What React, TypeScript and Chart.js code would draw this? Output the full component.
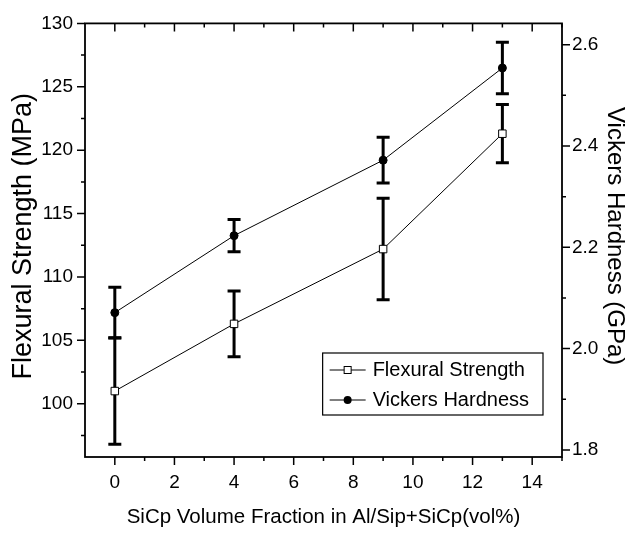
import React, { useEffect, useRef } from "react";
import { Chart, registerables } from "chart.js";

Chart.register(...registerables);

// ---- data ----
const xValues = [0, 4, 9, 13];
const flexuralStrength = [101.0, 106.3, 112.2, 121.3];
const flexuralError = [4.2, 2.6, 4.0, 2.3];
const vickersHardness = [2.071, 2.223, 2.372, 2.554];
const vickersError = [0.05, 0.032, 0.045, 0.051];

// ---- tick labels ----
const xTickValues = [0, 2, 4, 6, 8, 10, 12, 14];
const xMinorTicks = [1, 3, 5, 7, 9, 11, 13, 15];
const leftTickValues = [100, 105, 110, 115, 120, 125, 130];
const leftMinorTicks = [97.5, 102.5, 107.5, 112.5, 117.5, 122.5, 127.5];
const rightTickValues = [1.8, 2.0, 2.2, 2.4, 2.6];
const rightMinorTicks = [1.9, 2.1, 2.3, 2.5];

const xTitle = "SiCp Volume Fraction in Al/Sip+SiCp(vol%)";
const leftTitle = "Flexural Strength (MPa)";
const rightTitle = "Vickers Hardness (GPa)";
const legendLabels = ["Flexural Strength", "Vickers Hardness"];

const FONT = "'Liberation Sans', Arial, Helvetica, sans-serif";

const decorPlugin = {
  id: "decor",
  beforeDatasetsDraw(chart: any) {
    const ctx = chart.ctx as CanvasRenderingContext2D;
    const sx = chart.scales.x;
    const yl = chart.scales.y;
    const yr = chart.scales.y1;
    ctx.save();
    ctx.strokeStyle = "#000";
    ctx.lineWidth = 3;
    const bar = (scale: any, xv: number, v: number, e: number) => {
      const px = sx.getPixelForValue(xv);
      const top = scale.getPixelForValue(v + e);
      const bot = scale.getPixelForValue(v - e);
      ctx.beginPath();
      ctx.moveTo(px, top);
      ctx.lineTo(px, bot);
      ctx.moveTo(px - 6.5, top);
      ctx.lineTo(px + 6.5, top);
      ctx.moveTo(px - 6.5, bot);
      ctx.lineTo(px + 6.5, bot);
      ctx.stroke();
    };
    xValues.forEach((xv, i) => {
      bar(yl, xv, flexuralStrength[i], flexuralError[i]);
      bar(yr, xv, vickersHardness[i], vickersError[i]);
    });
    ctx.restore();
  },
  afterDraw(chart: any) {
    const ctx = chart.ctx as CanvasRenderingContext2D;
    const { left, right, top, bottom } = chart.chartArea;
    const sx = chart.scales.x;
    const yl = chart.scales.y;
    const yr = chart.scales.y1;
    ctx.save();
    ctx.strokeStyle = "#000";
    ctx.fillStyle = "#000";
    ctx.lineWidth = 1.8;
    ctx.strokeRect(left, top, right - left, bottom - top);
    ctx.lineWidth = 1.5;
    ctx.beginPath();
    const MAJ = 8;
    const MIN = 4;
    xTickValues.forEach((v) => {
      const p = sx.getPixelForValue(v);
      ctx.moveTo(p, bottom);
      ctx.lineTo(p, bottom + MAJ);
      ctx.moveTo(p, top);
      ctx.lineTo(p, top + MAJ);
    });
    xMinorTicks.forEach((v) => {
      const p = sx.getPixelForValue(v);
      ctx.moveTo(p, bottom);
      ctx.lineTo(p, bottom + MIN);
      ctx.moveTo(p, top);
      ctx.lineTo(p, top + MIN);
    });
    leftTickValues.forEach((v) => {
      const p = yl.getPixelForValue(v);
      ctx.moveTo(left - MAJ, p);
      ctx.lineTo(left, p);
    });
    leftMinorTicks.forEach((v) => {
      const p = yl.getPixelForValue(v);
      ctx.moveTo(left - MIN, p);
      ctx.lineTo(left, p);
    });
    rightTickValues.forEach((v) => {
      const p = yr.getPixelForValue(v);
      ctx.moveTo(right, p);
      ctx.lineTo(right + MAJ, p);
    });
    rightMinorTicks.forEach((v) => {
      const p = yr.getPixelForValue(v);
      ctx.moveTo(right, p);
      ctx.lineTo(right + MIN, p);
    });
    ctx.stroke();

    // axis titles
    const midY = (top + bottom) / 2 - 4;
    ctx.textAlign = "center";
    ctx.textBaseline = "middle";
    ctx.font = `20.5px ${FONT}`;
    ctx.fillText(xTitle, (left + right) / 2, 517);
    ctx.font = `27px ${FONT}`;
    ctx.save();
    ctx.translate(24, midY);
    ctx.rotate(-Math.PI / 2);
    ctx.fillText(leftTitle, 0, 0);
    ctx.restore();
    ctx.font = `24px ${FONT}`;
    ctx.save();
    ctx.translate(615, midY);
    ctx.rotate(Math.PI / 2);
    ctx.fillText(rightTitle, 0, 0);
    ctx.restore();

    // legend
    ctx.font = `20px ${FONT}`;
    const textW = Math.max(...legendLabels.map((t) => ctx.measureText(t).width));
    const bx1 = right - 19;
    const by2 = bottom - 42;
    const textX = bx1 - 14 - textW;
    const bx0 = textX - 50;
    const by0 = by2 - 62;
    ctx.lineWidth = 1.2;
    ctx.strokeRect(bx0, by0, bx1 - bx0, by2 - by0);
    const rows = [by0 + 17, by0 + 47];
    ctx.textAlign = "left";
    rows.forEach((ry, i) => {
      const s0 = bx0 + 7;
      const s1 = s0 + 36;
      ctx.lineWidth = 1;
      ctx.beginPath();
      ctx.moveTo(s0, ry);
      ctx.lineTo(s1, ry);
      ctx.stroke();
      const cx = (s0 + s1) / 2;
      if (i === 0) {
        ctx.fillStyle = "#fff";
        ctx.fillRect(cx - 3.5, ry - 3.5, 7, 7);
        ctx.strokeRect(cx - 3.5, ry - 3.5, 7, 7);
        ctx.fillStyle = "#000";
      } else {
        ctx.beginPath();
        ctx.arc(cx, ry, 4, 0, Math.PI * 2);
        ctx.fill();
      }
      ctx.fillText(legendLabels[i], textX, ry);
    });
    ctx.restore();
  },
};

export default function App() {
  const ref = useRef<HTMLCanvasElement | null>(null);
  useEffect(() => {
    if (!ref.current) return;
    const tickFont = { family: FONT, size: 19 };
    const chart = new Chart(ref.current, {
      type: "scatter",
      data: {
        datasets: [
          {
            label: legendLabels[0],
            data: xValues.map((x, i) => ({ x, y: flexuralStrength[i] })),
            yAxisID: "y",
            showLine: true,
            borderColor: "#000",
            borderWidth: 1,
            pointStyle: "rect",
            pointRadius: 5.3,
            pointBackgroundColor: "#fff",
            pointBorderColor: "#000",
            pointBorderWidth: 1,
          },
          {
            label: legendLabels[1],
            data: xValues.map((x, i) => ({ x, y: vickersHardness[i] })),
            yAxisID: "y1",
            showLine: true,
            borderColor: "#000",
            borderWidth: 1,
            pointStyle: "circle",
            pointRadius: 4,
            pointBackgroundColor: "#000",
            pointBorderColor: "#000",
            pointBorderWidth: 1,
          },
        ],
      },
      options: {
        responsive: false,
        animation: false,
        devicePixelRatio: 1,
        layout: { padding: { top: 22, left: 0, right: 0, bottom: 0 } },
        plugins: { legend: { display: false }, tooltip: { enabled: false } },
        scales: {
          x: {
            type: "linear",
            position: "bottom",
            min: -1,
            max: 15,
            grid: { display: false, drawTicks: false, tickLength: 0 },
            border: { display: false },
            afterBuildTicks: (s: any) => {
              s.ticks = xTickValues.map((v) => ({ value: v }));
            },
            afterFit: (s: any) => {
              s.height = 77;
            },
            ticks: { font: tickFont, color: "#000", padding: 14, maxRotation: 0, autoSkip: false },
          },
          y: {
            type: "linear",
            position: "left",
            min: 95.8,
            max: 130,
            grid: { display: false, drawTicks: false, tickLength: 0 },
            border: { display: false },
            afterBuildTicks: (s: any) => {
              s.ticks = leftTickValues.map((v) => ({ value: v }));
            },
            afterFit: (s: any) => {
              s.width = 85;
            },
            ticks: { font: tickFont, color: "#000", padding: 12, autoSkip: false },
          },
          y1: {
            type: "linear",
            position: "right",
            min: 1.786,
            max: 2.642,
            grid: { display: false, drawTicks: false, tickLength: 0 },
            border: { display: false },
            afterBuildTicks: (s: any) => {
              s.ticks = rightTickValues.map((v) => ({ value: v }));
            },
            afterFit: (s: any) => {
              s.width = 75;
            },
            ticks: {
              font: tickFont,
              color: "#000",
              padding: 10,
              autoSkip: false,
              callback: (v: any) => Number(v).toFixed(1),
            },
          },
        },
      },
      plugins: [decorPlugin],
    });
    return () => chart.destroy();
  }, []);
  return (
    <div style={{ position: "absolute", left: 0, top: 0, width: 637, height: 534, background: "#fff" }}>
      <canvas ref={ref} width={637} height={534} />
    </div>
  );
}
